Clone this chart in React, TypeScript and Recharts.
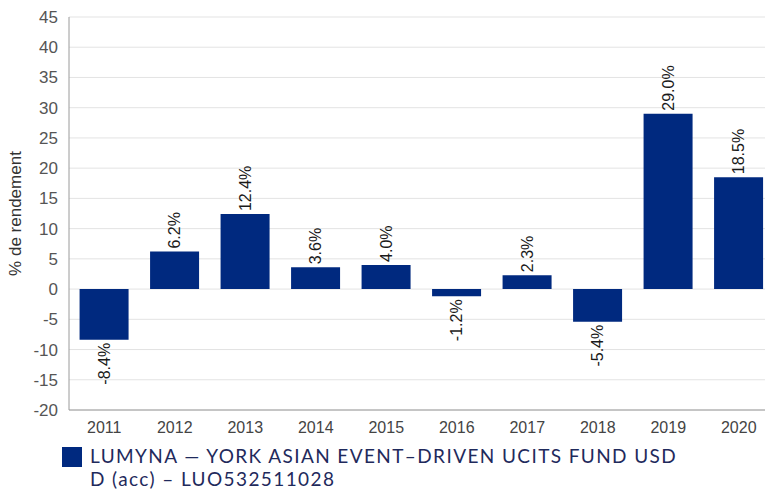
import { BarChart, Bar, XAxis, YAxis, CartesianGrid, LabelList } from "recharts";

const years = ["2011", "2012", "2013", "2014", "2015", "2016", "2017", "2018", "2019", "2020"];
const returns = [-8.4, 6.2, 12.4, 3.6, 4.0, -1.2, 2.3, -5.4, 29.0, 18.5];
const yTicks = [-20, -15, -10, -5, 0, 5, 10, 15, 20, 25, 30, 35, 40, 45];
const legendLines = ["LUMYNA — YORK ASIAN EVENT–DRIVEN UCITS FUND USD", "D (acc) – LUO532511028"];

const data = years.map((year, i) => ({ year, value: returns[i] }));

const BAR = "#00297f";
const FONT = "'Liberation Sans', Arial, sans-serif";

// étiquette verticale au-dessus (positif) ou en dessous (négatif) de la barre
const BarLabel = (props: any) => {
  const { x, y, width, height, value } = props;
  const cx = x + width / 2;
  const top = Math.min(y, y + height);
  const bottom = Math.max(y, y + height);
  const pos = value >= 0;
  const ay = pos ? top - 3 : bottom + 3;
  return (
    <text
      x={cx}
      y={ay}
      transform={`rotate(-90 ${cx} ${ay})`}
      textAnchor={pos ? "start" : "end"}
      dominantBaseline="central"
      fontSize={16}
      fill="#1a1a1a"
      fontFamily={FONT}
    >
      {value.toFixed(1)}%
    </text>
  );
};

export default function App() {
  return (
    <div
      style={{
        position: "absolute",
        left: 0,
        top: 0,
        width: 765,
        height: 490,
        overflow: "hidden",
        background: "#fff",
        fontFamily: FONT,
      }}
    >
      <BarChart
        width={774}
        height={440}
        data={data}
        margin={{ top: 17, right: 0, bottom: 0, left: 0 }}
        barCategoryGap="15%"
        style={{ fontFamily: FONT }}
      >
        <CartesianGrid vertical={false} stroke="#e3e3e3" />
        <XAxis
          dataKey="year"
          height={30}
          tickLine={false}
          axisLine={{ stroke: "#9a9a9a" }}
          tick={{ fontSize: 16, fill: "#444", fontFamily: FONT }}
          tickMargin={6}
        />
        <YAxis
          width={69}
          domain={[-20, 45]}
          ticks={yTicks}
          interval={0}
          tickLine={false}
          axisLine={{ stroke: "#9a9a9a" }}
          tick={{ fontSize: 17, fill: "#555", fontFamily: FONT }}
          tickMargin={5}
          label={{
            value: "% de rendement",
            angle: -90,
            position: "insideLeft",
            dx: 10,
            style: { textAnchor: "middle", fontSize: 17, fill: "#333", fontFamily: FONT },
          }}
        />
        <Bar dataKey="value" fill={BAR} isAnimationActive={false}>
          <LabelList dataKey="value" content={BarLabel} />
        </Bar>
      </BarChart>
      <div
        style={{
          position: "absolute",
          left: 62,
          top: 444,
          display: "flex",
          alignItems: "flex-start",
        }}
      >
        <div style={{ width: 20, height: 20, background: BAR, marginTop: 3, marginRight: 8 }} />
        <div
          style={{
            fontSize: 19,
            lineHeight: "23px",
            letterSpacing: 1.4,
            color: "#1f2a5c",
            fontFamily: "Lato, 'Noto Sans', sans-serif",
            whiteSpace: "nowrap",
          }}
        >
          {legendLines.map((l) => (
            <div key={l}>{l}</div>
          ))}
        </div>
      </div>
    </div>
  );
}
